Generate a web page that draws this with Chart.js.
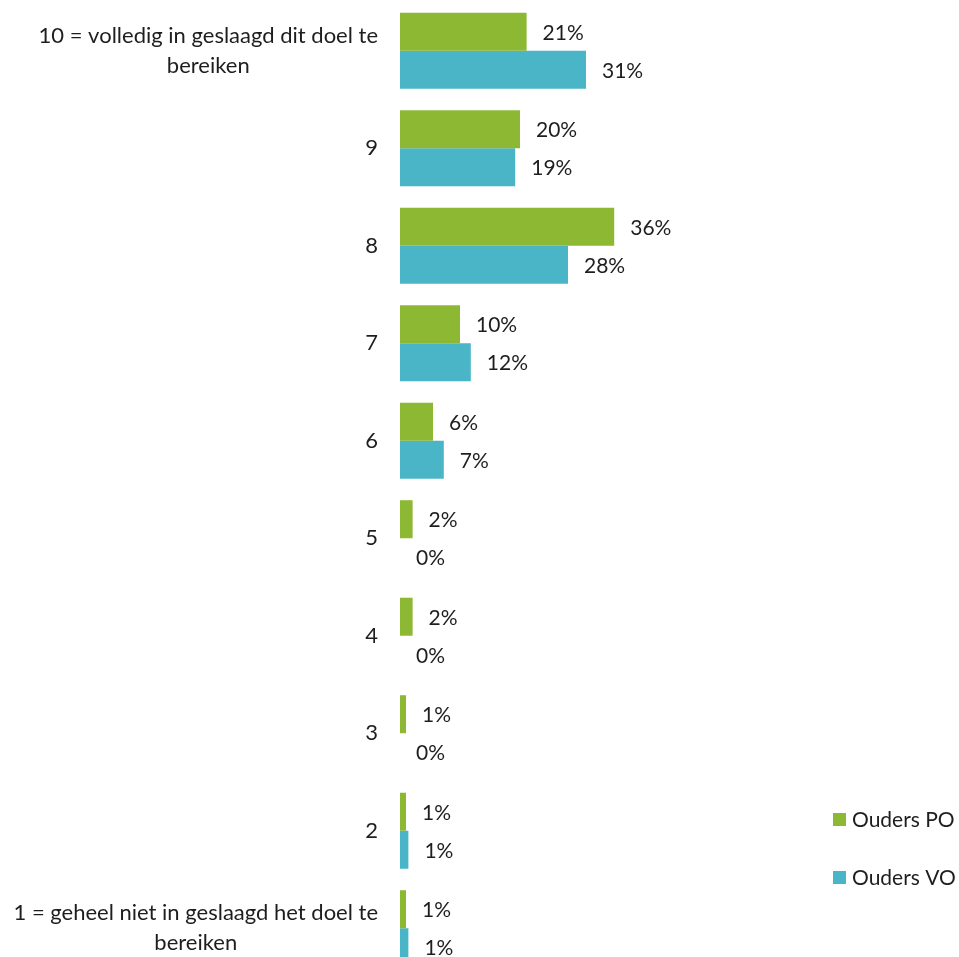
<!DOCTYPE html>
<html>
<head>
<meta charset="utf-8">
<script src="https://cdn.jsdelivr.net/npm/chart.js@4"></script>
<style>
  html, body { margin: 0; padding: 0; background: #fff; overflow: hidden; }
  #wrap { width: 959px; height: 980px; }
</style>
</head>
<body>
<div id="wrap"><canvas id="grafiek" width="959" height="980"></canvas></div>
<script>
// Categorieën (van boven naar beneden), meerregelige labels als arrays
const categorieen = [
  ['10 = volledig in geslaagd dit doel te', 'bereiken'],
  ['9'], ['8'], ['7'], ['6'], ['5'], ['4'], ['3'], ['2'],
  ['1 = geheel niet in geslaagd het doel te', 'bereiken']
];
const reeksNamen = ['Ouders PO', 'Ouders VO'];
// geschat uit de balklengtes; label toont afgerond percentage
const oudersPO = [21.1, 20, 35.7, 10, 5.5, 2.1, 2.1, 1, 1, 1];
const oudersVO = [31, 19.2, 28, 11.8, 7.3, 0, 0, 0, 1.4, 1.4];
const kleuren = ['#8CB833', '#4AB5C6'];

const FONT = '21px Lato, "Open Sans", sans-serif';
const AS_FONT = '22px Lato, "Open Sans", sans-serif';
const TEKST = '#1e1e1e';

// Percentages achter de balken
const labelPlugin = {
  id: 'labelPlugin',
  afterDatasetsDraw(chart) {
    const ctx = chart.ctx;
    ctx.save();
    ctx.font = FONT;
    ctx.fillStyle = TEKST;
    ctx.textAlign = 'left';
    ctx.textBaseline = 'middle';
    chart.data.datasets.forEach((ds, di) => {
      chart.getDatasetMeta(di).data.forEach((bar, i) => {
        ctx.fillText(Math.round(ds.data[i]) + '%', bar.x + 16, bar.y + 1);
      });
    });
    ctx.restore();
  }
};

// Categorie-labels: blok rechts uitgelijnd, regels gecentreerd (zoals Excel)
const asLabels = {
  id: 'asLabels',
  afterDraw(chart) {
    const ctx = chart.ctx;
    const y = chart.scales.y;
    ctx.save();
    ctx.font = AS_FONT;
    ctx.fillStyle = TEKST;
    ctx.textAlign = 'center';
    ctx.textBaseline = 'middle';
    const rechts = y.right - 22;
    const regelH = 30;
    categorieen.forEach((regels, i) => {
      const midden = y.getPixelForValue(i);
      const breed = Math.max(...regels.map(r => ctx.measureText(r).width));
      const x = rechts - breed / 2;
      const start = midden - (regels.length - 1) * regelH / 2;
      regels.forEach((r, k) => ctx.fillText(r, x, start + k * regelH));
    });
    ctx.restore();
  }
};

// Legenda rechtsonder
const legenda = {
  id: 'legenda',
  afterDraw(chart) {
    const ctx = chart.ctx;
    ctx.save();
    ctx.font = FONT;
    ctx.textAlign = 'left';
    ctx.textBaseline = 'middle';
    const posY = [819, 877];
    reeksNamen.forEach((naam, i) => {
      ctx.fillStyle = kleuren[i];
      ctx.fillRect(833, posY[i] - 6, 13, 13);
      ctx.fillStyle = TEKST;
      ctx.fillText(naam, 852, posY[i] + 1);
    });
    ctx.restore();
  }
};

new Chart(document.getElementById('grafiek').getContext('2d'), {
  type: 'bar',
  data: {
    labels: categorieen.map(c => c.join(' ')),
    datasets: [
      { label: reeksNamen[0], data: oudersPO, backgroundColor: kleuren[0] },
      { label: reeksNamen[1], data: oudersVO, backgroundColor: kleuren[1] }
    ]
  },
  options: {
    indexAxis: 'y',
    responsive: false,
    animation: false,
    devicePixelRatio: 1,
    layout: { padding: { top: 2, bottom: 3, left: 0, right: 319 } },
    datasets: { bar: { barPercentage: 1, categoryPercentage: 0.78 } },
    scales: {
      x: { display: false, min: 0, max: 40 },
      y: {
        grid: { display: false },
        border: { display: false },
        ticks: { display: false },
        afterFit(scale) { scale.width = 400; }
      }
    },
    plugins: {
      legend: { display: false },
      tooltip: { enabled: false }
    }
  },
  plugins: [labelPlugin, asLabels, legenda]
});
</script>
</body>
</html>
